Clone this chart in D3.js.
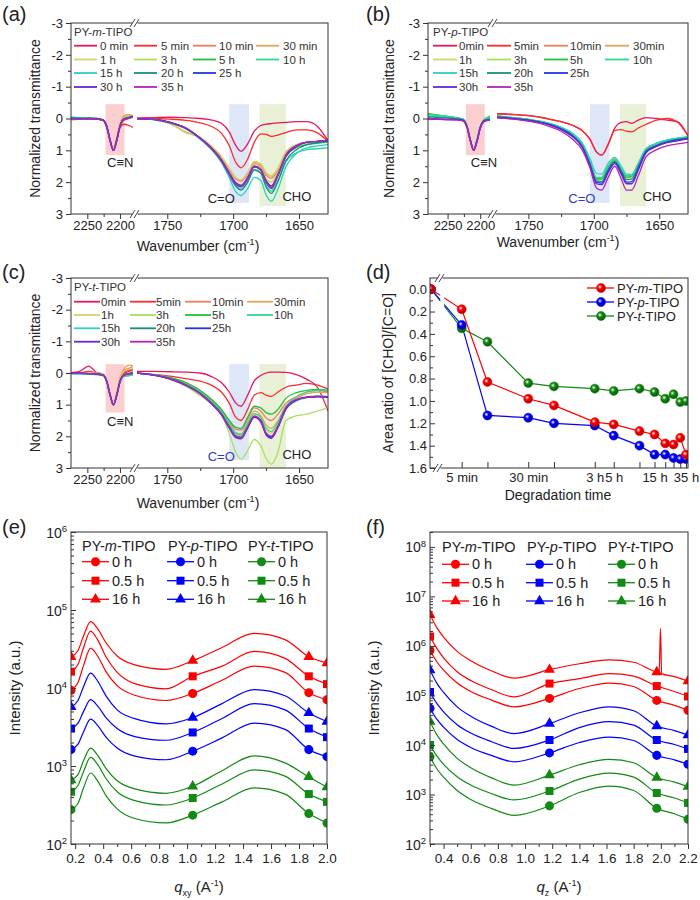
<!DOCTYPE html>
<html>
<head>
<meta charset="utf-8">
<script src="https://cdn.jsdelivr.net/npm/d3@7"></script>
<style>
  body { margin: 0; background: #fff; }
  svg { font-family: Arial, 'Liberation Sans', sans-serif; }
</style>
</head>
<body>
<svg id="fig" width="700" height="900"></svg>
<script>
const FONT = "Arial, 'Liberation Sans', sans-serif";
const svg = d3.select('#fig');
svg.append('rect').attr('width', 700).attr('height', 900).attr('fill', '#fff');

// ---------- data: FTIR spectra (a)-(c) ----------
const timeLabelsA = ['0 min', '5 min', '10 min', '30 min', '1 h', '3 h', '5 h', '10 h', '15 h', '20 h', '25 h', '30 h', '35 h'];
const timeLabelsBC = ['0min', '5min', '10min', '30min', '1h', '3h', '5h', '10h', '15h', '20h', '25h', '30h', '35h'];
const timeColors = ['#e8175d', '#ff2a2a', '#f47a5e', '#e3a458', '#d9d06e', '#a8e05a', '#1fc23a',
                    '#2ed88c', '#2bd0c6', '#12907f', '#2038e0', '#6a24d8', '#b322bd'];
// legend cell (row, column) of each time
const legendCells = [[0, 0], [0, 1], [0, 2], [0, 3], [1, 0], [1, 1], [1, 2], [1, 3], [2, 0], [2, 1], [2, 2], [3, 0], [3, 1]];

// wavenumbers (cm-1) of the read points
const wnLeft = [2280, 2262, 2248, 2236, 2226, 2220, 2215, 2210, 2205, 2200, 2194, 2186, 2180];
const wnRight = [1774, 1760, 1748, 1736, 1725, 1716, 1709, 1703, 1698, 1694, 1689,
                 1684, 1679, 1675, 1671, 1666, 1660, 1652, 1644, 1636, 1628];

const cnBand = [2222, 2193];
const coBand = [1703, 1688];
const choBand = [1680, 1660];

const aLeft = [
  [0.02, 0.0, -0.02, 0.02, 0.05, 0.28, 0.7, 1.0, 0.7, 0.25, 0.05, 0.0, -0.05],
  [0.02, 0.03, 0.0, 0.02, 0.06, 0.3, 0.72, 0.98, 0.66, 0.3, 0.18, 0.22, 0.28],
  [0.04, 0.02, -0.03, 0.0, 0.04, 0.26, 0.68, 0.98, 0.64, 0.2, -0.05, -0.1, -0.08],
  [0.05, 0.03, 0.0, 0.02, 0.04, 0.25, 0.66, 0.97, 0.62, 0.18, -0.08, -0.12, -0.1],
  [0.04, 0.02, -0.02, 0.02, 0.05, 0.27, 0.68, 0.99, 0.66, 0.22, -0.02, -0.08, -0.05],
  [0.02, 0.0, 0.02, 0.0, 0.05, 0.26, 0.7, 1.0, 0.68, 0.22, 0.0, -0.05, -0.05],
  [-0.05, -0.03, -0.02, 0.0, 0.04, 0.25, 0.68, 1.0, 0.68, 0.24, 0.02, -0.04, -0.08],
  [0.0, 0.02, 0.0, 0.01, 0.05, 0.28, 0.7, 1.0, 0.7, 0.24, 0.02, -0.03, -0.06],
  [-0.04, -0.02, 0.0, 0.02, 0.05, 0.27, 0.7, 1.0, 0.7, 0.25, 0.03, -0.02, -0.04],
  [-0.03, 0.0, 0.01, 0.0, 0.05, 0.27, 0.7, 1.0, 0.68, 0.24, 0.02, -0.03, -0.05],
  [0.0, 0.01, 0.0, 0.01, 0.04, 0.26, 0.69, 1.0, 0.69, 0.24, 0.02, -0.03, -0.06],
  [0.0, 0.0, 0.01, 0.01, 0.05, 0.27, 0.7, 1.0, 0.7, 0.25, 0.03, -0.02, -0.06],
  [0.0, 0.01, 0.0, 0.02, 0.05, 0.28, 0.7, 1.0, 0.7, 0.25, 0.03, -0.02, -0.06]
];
const aRight = [
  [-0.02, -0.03, -0.04, -0.03, 0.0, 0.05, 0.15, 0.42, 0.85, 1.03, 0.8, 0.4, 0.22, 0.18, 0.16, 0.14, 0.12, 0.1, 0.1, 0.25, 0.7],
  [0.0, 0.0, 0.02, 0.06, 0.14, 0.26, 0.46, 0.85, 1.38, 1.55, 1.28, 0.75, 0.48, 0.5, 0.56, 0.52, 0.44, 0.36, 0.36, 0.45, 0.72],
  [0.0, 0.02, 0.12, 0.32, 0.62, 0.92, 1.22, 1.6, 1.9, 1.97, 1.75, 1.42, 1.5, 1.78, 1.88, 1.62, 1.1, 0.84, 0.75, 0.72, 0.7],
  [0.0, 0.03, 0.15, 0.42, 0.6, 0.9, 1.2, 1.58, 1.88, 1.95, 1.72, 1.38, 1.45, 1.72, 1.82, 1.58, 1.06, 0.84, 0.76, 0.72, 0.7],
  [0.0, 0.03, 0.16, 0.45, 0.58, 0.88, 1.18, 1.55, 1.85, 1.93, 1.7, 1.35, 1.42, 1.7, 1.8, 1.56, 1.04, 0.82, 0.75, 0.72, 0.7],
  [0.0, 0.03, 0.12, 0.32, 0.62, 0.95, 1.28, 1.68, 2.0, 2.08, 1.85, 1.48, 1.55, 1.9, 2.0, 1.7, 1.13, 0.87, 0.78, 0.74, 0.72],
  [0.0, 0.03, 0.12, 0.3, 0.62, 0.95, 1.3, 1.72, 2.05, 2.12, 1.88, 1.5, 1.6, 1.98, 2.12, 1.78, 1.18, 0.92, 0.82, 0.78, 0.74],
  [0.0, 0.04, 0.14, 0.32, 0.64, 0.98, 1.34, 1.78, 2.12, 2.22, 1.98, 1.6, 1.7, 2.1, 2.28, 1.95, 1.36, 1.08, 0.98, 0.95, 0.92],
  [0.0, 0.04, 0.14, 0.32, 0.65, 1.0, 1.38, 1.85, 2.3, 2.42, 2.2, 1.85, 1.95, 2.4, 2.6, 2.22, 1.52, 1.1, 0.92, 0.86, 0.82],
  [0.0, 0.03, 0.13, 0.31, 0.63, 0.97, 1.33, 1.76, 2.12, 2.25, 2.0, 1.62, 1.72, 2.15, 2.35, 1.98, 1.33, 0.98, 0.82, 0.76, 0.72],
  [0.0, 0.03, 0.12, 0.3, 0.62, 0.95, 1.3, 1.72, 2.05, 2.15, 1.9, 1.52, 1.62, 2.0, 2.2, 1.8, 1.2, 0.88, 0.74, 0.72, 0.68],
  [0.0, 0.03, 0.12, 0.3, 0.62, 0.95, 1.3, 1.7, 2.02, 2.1, 1.85, 1.5, 1.6, 1.95, 2.12, 1.75, 1.15, 0.85, 0.74, 0.72, 0.68],
  [0.0, 0.03, 0.12, 0.3, 0.62, 0.96, 1.32, 1.74, 2.06, 2.12, 1.88, 1.52, 1.62, 2.0, 2.18, 1.78, 1.18, 0.86, 0.74, 0.72, 0.68]
];

const bLeft = [
  [-0.1, -0.06, -0.03, 0.0, 0.05, 0.28, 0.7, 1.0, 0.7, 0.28, 0.05, -0.05, -0.1],
  [-0.12, -0.08, -0.04, 0.0, 0.05, 0.28, 0.7, 1.0, 0.72, 0.3, 0.08, -0.02, -0.05],
  [-0.1, -0.08, -0.05, -0.02, 0.04, 0.26, 0.68, 0.98, 0.7, 0.28, 0.05, -0.05, -0.1],
  [-0.12, -0.08, -0.05, -0.02, 0.04, 0.26, 0.68, 0.98, 0.7, 0.28, 0.05, -0.06, -0.12],
  [-0.1, -0.08, -0.04, -0.01, 0.04, 0.27, 0.69, 0.99, 0.7, 0.28, 0.05, -0.05, -0.1],
  [-0.15, -0.1, -0.06, -0.02, 0.03, 0.25, 0.68, 0.98, 0.68, 0.26, 0.04, -0.05, -0.1],
  [-0.15, -0.1, -0.06, -0.02, 0.03, 0.25, 0.68, 0.98, 0.68, 0.26, 0.04, -0.06, -0.12],
  [-0.12, -0.1, -0.05, -0.02, 0.03, 0.25, 0.68, 0.98, 0.68, 0.26, 0.04, -0.05, -0.1],
  [-0.08, -0.06, -0.03, 0.0, 0.04, 0.26, 0.68, 0.98, 0.68, 0.27, 0.05, 0.0, -0.02],
  [-0.05, -0.03, -0.01, 0.01, 0.05, 0.27, 0.69, 0.99, 0.7, 0.28, 0.06, 0.02, 0.0],
  [0.0, 0.02, 0.03, 0.03, 0.06, 0.28, 0.7, 1.0, 0.72, 0.3, 0.08, 0.05, 0.05],
  [0.02, 0.03, 0.04, 0.04, 0.07, 0.28, 0.7, 1.0, 0.72, 0.3, 0.08, 0.05, 0.08],
  [0.0, 0.02, 0.03, 0.04, 0.08, 0.3, 0.72, 1.0, 0.74, 0.32, 0.1, 0.06, 0.1]
];
const bRight = [
  [-0.15, -0.12, -0.08, 0.0, 0.1, 0.22, 0.38, 0.65, 1.05, 1.15, 0.8, 0.3, 0.12, 0.1, 0.15, 0.05, -0.03, 0.0, 0.05, 0.1, 0.55],
  [-0.15, -0.12, -0.08, 0.0, 0.1, 0.22, 0.38, 0.65, 1.05, 1.15, 0.82, 0.38, 0.35, 0.4, 0.42, 0.3, 0.18, 0.05, 0.0, 0.12, 0.55],
  [-0.05, 0.0, 0.06, 0.15, 0.3, 0.52, 0.82, 1.38, 1.9, 1.88, 1.5, 1.28, 1.58, 1.82, 1.8, 1.45, 0.98, 0.82, 0.72, 0.65, 0.6],
  [-0.06, 0.0, 0.05, 0.14, 0.3, 0.5, 0.8, 1.36, 1.88, 1.86, 1.48, 1.26, 1.56, 1.8, 1.78, 1.42, 0.96, 0.8, 0.7, 0.64, 0.6],
  [-0.05, 0.0, 0.06, 0.16, 0.31, 0.52, 0.83, 1.4, 1.92, 1.9, 1.52, 1.3, 1.6, 1.85, 1.82, 1.46, 0.98, 0.8, 0.7, 0.64, 0.6],
  [-0.06, -0.01, 0.05, 0.14, 0.29, 0.5, 0.8, 1.35, 1.88, 1.87, 1.5, 1.28, 1.57, 1.83, 1.8, 1.44, 0.96, 0.8, 0.7, 0.64, 0.6],
  [-0.08, -0.02, 0.04, 0.13, 0.28, 0.48, 0.78, 1.34, 1.9, 1.9, 1.52, 1.3, 1.6, 1.85, 1.82, 1.45, 0.96, 0.78, 0.68, 0.63, 0.58],
  [-0.08, -0.02, 0.04, 0.13, 0.28, 0.48, 0.78, 1.32, 1.85, 1.85, 1.5, 1.3, 1.58, 1.8, 1.78, 1.42, 0.95, 0.78, 0.68, 0.62, 0.58],
  [-0.06, 0.0, 0.05, 0.14, 0.28, 0.48, 0.76, 1.25, 1.72, 1.75, 1.4, 1.22, 1.5, 1.75, 1.76, 1.4, 0.95, 0.78, 0.68, 0.62, 0.58],
  [-0.05, 0.0, 0.06, 0.16, 0.32, 0.54, 0.86, 1.42, 1.96, 1.98, 1.6, 1.35, 1.65, 1.92, 1.9, 1.52, 1.02, 0.84, 0.73, 0.66, 0.62],
  [-0.04, 0.01, 0.07, 0.17, 0.33, 0.56, 0.88, 1.45, 2.0, 2.03, 1.65, 1.38, 1.7, 2.0, 1.98, 1.58, 1.05, 0.86, 0.74, 0.68, 0.62],
  [-0.03, 0.02, 0.08, 0.18, 0.35, 0.58, 0.9, 1.48, 2.05, 2.08, 1.7, 1.42, 1.75, 2.05, 2.05, 1.62, 1.08, 0.88, 0.76, 0.7, 0.64],
  [-0.02, 0.03, 0.1, 0.22, 0.4, 0.66, 0.98, 1.55, 2.18, 2.25, 1.85, 1.5, 1.9, 2.25, 2.25, 1.8, 1.2, 0.98, 0.86, 0.8, 0.75]
];

const cLeft = [
  [0.0, -0.05, -0.22, -0.02, 0.04, 0.26, 0.68, 1.0, 0.7, 0.25, 0.02, -0.05, -0.1],
  [0.0, 0.0, -0.05, 0.0, 0.05, 0.28, 0.7, 1.02, 0.72, 0.26, 0.0, -0.1, -0.15],
  [0.0, -0.02, 0.0, 0.02, 0.05, 0.27, 0.7, 1.0, 0.68, 0.2, -0.08, -0.15, -0.2],
  [0.02, 0.0, 0.02, 0.02, 0.04, 0.25, 0.68, 0.98, 0.65, 0.15, -0.12, -0.25, -0.22],
  [0.0, 0.02, 0.0, 0.02, 0.05, 0.27, 0.7, 1.0, 0.68, 0.2, -0.05, -0.12, -0.15],
  [0.02, 0.0, 0.02, 0.0, 0.04, 0.26, 0.7, 1.0, 0.7, 0.25, 0.05, 0.0, -0.05],
  [0.0, 0.02, 0.02, 0.04, 0.08, 0.3, 0.72, 1.0, 0.72, 0.3, 0.1, 0.08, 0.05],
  [0.02, 0.02, 0.04, 0.05, 0.08, 0.3, 0.72, 1.0, 0.72, 0.3, 0.1, 0.08, 0.06],
  [0.02, 0.03, 0.04, 0.05, 0.07, 0.28, 0.7, 1.0, 0.7, 0.28, 0.08, 0.05, 0.04],
  [0.0, 0.01, 0.02, 0.03, 0.06, 0.28, 0.7, 1.0, 0.7, 0.28, 0.07, 0.03, 0.02],
  [0.0, 0.0, 0.02, 0.03, 0.06, 0.28, 0.7, 1.0, 0.7, 0.27, 0.06, 0.02, 0.0],
  [0.0, 0.01, 0.02, 0.03, 0.06, 0.28, 0.7, 1.0, 0.7, 0.27, 0.06, 0.02, 0.0],
  [0.0, 0.01, 0.02, 0.03, 0.06, 0.28, 0.7, 1.0, 0.7, 0.28, 0.07, 0.03, 0.01]
];
const cRight = [
  [-0.05, -0.05, -0.04, -0.03, 0.0, 0.12, 0.3, 0.6, 0.95, 1.05, 0.7, 0.25, 0.08, 0.0, -0.03, -0.03, -0.02, 0.05, 0.2, 0.45, 1.2],
  [0.0, 0.05, 0.1, 0.18, 0.26, 0.4, 0.6, 0.95, 1.4, 1.5, 1.15, 0.7, 0.62, 0.7, 0.74, 0.6, 0.45, 0.38, 0.33, 0.38, 0.5],
  [0.0, 0.06, 0.15, 0.3, 0.55, 0.85, 1.15, 1.5, 1.78, 1.8, 1.45, 1.1, 1.2, 1.42, 1.5, 1.3, 0.95, 0.75, 0.6, 0.55, 0.6],
  [0.0, 0.06, 0.16, 0.32, 0.58, 0.9, 1.2, 1.58, 1.88, 1.92, 1.55, 1.2, 1.35, 1.65, 1.75, 1.5, 1.05, 0.8, 0.65, 0.6, 0.62],
  [0.0, 0.07, 0.18, 0.36, 0.62, 0.95, 1.25, 1.62, 1.92, 1.98, 1.65, 1.3, 1.45, 1.8, 1.9, 1.6, 1.1, 0.85, 0.75, 0.72, 0.75],
  [0.0, 0.08, 0.2, 0.42, 0.72, 0.98, 1.3, 1.9, 2.5, 2.72, 2.45, 2.1, 2.3, 2.7, 2.88, 2.5, 1.5, 1.35, 1.3, 1.2, 1.1],
  [0.0, 0.05, 0.14, 0.3, 0.55, 0.85, 1.15, 1.5, 1.72, 1.75, 1.4, 1.05, 1.1, 1.25, 1.3, 1.15, 0.8, 0.62, 0.55, 0.52, 0.55],
  [0.0, 0.06, 0.16, 0.34, 0.6, 0.92, 1.22, 1.6, 1.9, 1.95, 1.6, 1.28, 1.4, 1.75, 1.85, 1.55, 1.05, 0.75, 0.6, 0.55, 0.55],
  [0.0, 0.07, 0.18, 0.38, 0.65, 0.98, 1.3, 1.7, 2.0, 2.05, 1.72, 1.38, 1.52, 1.92, 2.02, 1.7, 1.15, 0.88, 0.78, 0.75, 0.78],
  [0.0, 0.07, 0.18, 0.37, 0.64, 0.97, 1.28, 1.68, 1.98, 2.02, 1.7, 1.36, 1.5, 1.9, 2.0, 1.68, 1.12, 0.85, 0.76, 0.74, 0.75],
  [0.0, 0.07, 0.18, 0.38, 0.65, 0.98, 1.3, 1.72, 2.02, 2.06, 1.72, 1.38, 1.52, 1.92, 2.03, 1.7, 1.12, 0.85, 0.76, 0.74, 0.75],
  [0.0, 0.07, 0.19, 0.39, 0.66, 1.0, 1.32, 1.74, 2.04, 2.08, 1.74, 1.4, 1.55, 1.95, 2.06, 1.72, 1.14, 0.86, 0.77, 0.75, 0.76],
  [0.0, 0.07, 0.18, 0.38, 0.65, 0.98, 1.3, 1.72, 2.0, 2.05, 1.7, 1.36, 1.5, 1.9, 2.0, 1.68, 1.1, 0.84, 0.76, 0.74, 0.75]
];

// ---------- data: area ratio (d) ----------
const ratioMinutes = [0, 5, 10, 30, 60, 180, 300, 600, 900, 1200, 1500, 1800, 2100];
const ratioM = [0.0, 0.18, 0.83, 0.98, 1.04, 1.19, 1.21, 1.27, 1.30, 1.38, 1.39, 1.33, 1.48];
const ratioP = [0.0, 0.32, 1.13, 1.15, 1.20, 1.22, 1.31, 1.40, 1.48, 1.48, 1.51, 1.52, 1.52];
const ratioT = [0.0, 0.35, 0.47, 0.84, 0.87, 0.89, 0.91, 0.89, 0.92, 0.98, 0.94, 1.01, 1.00];
const ratioTicks = [5, 10, 30, 60, 180, 300, 600, 900, 1200, 1500, 1800, 2100];
const ratioTickLabels = {5: '5 min', 30: '30 min', 180: '3 h', 300: '5 h', 900: '15 h', 2100: '35 h'};

// ---------- data: GIWAXS (e) in-plane, log10 intensity ----------
const qxy = [0.17, 0.22, 0.26, 0.31, 0.36, 0.42, 0.5, 0.62, 0.85, 1.04, 1.25, 1.48, 1.7, 1.87, 2.0];
const eRed16h   = [4.40, 4.48, 4.67, 4.85, 4.76, 4.58, 4.41, 4.30, 4.24, 4.35, 4.52, 4.70, 4.62, 4.40, 4.32];
const eRed05h   = [4.21, 4.30, 4.52, 4.73, 4.62, 4.40, 4.20, 4.06, 3.99, 4.15, 4.28, 4.47, 4.38, 4.15, 4.05];
const eRed0h    = [3.97, 4.07, 4.29, 4.51, 4.41, 4.21, 4.03, 3.91, 3.84, 3.93, 4.10, 4.28, 4.20, 3.94, 3.85];
const eBlue16h  = [3.76, 3.84, 4.02, 4.19, 4.09, 3.90, 3.72, 3.61, 3.54, 3.62, 3.80, 3.98, 3.90, 3.68, 3.57];
const eBlue05h  = [3.48, 3.55, 3.70, 3.85, 3.77, 3.62, 3.48, 3.38, 3.33, 3.43, 3.61, 3.80, 3.72, 3.48, 3.37];
const eBlue0h   = [3.21, 3.28, 3.44, 3.60, 3.52, 3.37, 3.23, 3.13, 3.08, 3.19, 3.36, 3.55, 3.47, 3.21, 3.12];
const eGreen16h = [2.82, 2.89, 3.07, 3.23, 3.14, 2.97, 2.81, 2.71, 2.65, 2.74, 2.94, 3.13, 3.04, 2.86, 2.73];
const eGreen05h = [2.67, 2.75, 2.93, 3.11, 3.02, 2.84, 2.67, 2.56, 2.50, 2.59, 2.77, 2.95, 2.87, 2.64, 2.54];
const eGreen0h  = [2.44, 2.52, 2.72, 2.91, 2.81, 2.62, 2.45, 2.33, 2.27, 2.37, 2.54, 2.72, 2.64, 2.39, 2.27];
const qxyMarkers = [0.17, 1.04, 1.87, 2.0];

// ---------- data: GIWAXS (f) out-of-plane, log10 intensity ----------
const qz = [0.3, 0.35, 0.4, 0.5, 0.6, 0.75, 0.92, 1.18, 1.4, 1.62, 1.8, 1.97, 2.1, 2.2];
const fRed16h   = [6.63, 6.37, 6.18, 5.89, 5.70, 5.50, 5.35, 5.52, 5.64, 5.72, 5.67, 5.47, 5.38, 5.29];
const fRed05h   = [6.19, 5.95, 5.76, 5.48, 5.30, 5.12, 4.97, 5.24, 5.34, 5.44, 5.39, 5.19, 5.08, 4.98];
const fRed0h    = [5.91, 5.68, 5.51, 5.25, 5.08, 4.91, 4.77, 4.94, 5.14, 5.25, 5.18, 4.90, 4.80, 4.70];
const fBlue16h  = [5.51, 5.25, 5.06, 4.77, 4.58, 4.38, 4.23, 4.43, 4.65, 4.77, 4.69, 4.38, 4.29, 4.20];
const fBlue05h  = [5.07, 4.84, 4.67, 4.41, 4.24, 4.07, 3.93, 4.10, 4.35, 4.47, 4.40, 4.10, 4.01, 3.92];
const fBlue0h   = [4.74, 4.52, 4.36, 4.11, 3.95, 3.79, 3.66, 3.84, 4.05, 4.16, 4.09, 3.79, 3.70, 3.61];
const fGreen16h = [4.47, 4.21, 4.02, 3.73, 3.54, 3.34, 3.19, 3.39, 3.60, 3.71, 3.64, 3.34, 3.25, 3.16];
const fGreen05h = [4.00, 3.78, 3.61, 3.36, 3.19, 3.02, 2.89, 3.07, 3.31, 3.43, 3.35, 3.03, 2.93, 2.83];
const fGreen0h  = [3.76, 3.52, 3.35, 3.08, 2.90, 2.72, 2.58, 2.77, 3.04, 3.17, 3.08, 2.72, 2.61, 2.50];
const fRedSpikeQ = [1.988, 1.997, 2.006];
const fRedSpikeV = [5.46, 6.35, 5.44];
const qzMarkers = [0.3, 1.18, 1.97, 2.2];

const legendTimes = ['0 h', '0.5 h', '16 h'];

// ---------- helpers ----------
function styleAxis(sel, fs) {
  sel.select('.domain').remove();
  sel.selectAll('line').attr('stroke', '#333');
  sel.selectAll('text').attr('font-size', fs).attr('fill', '#222').attr('font-family', FONT);
}

function frame(x0, y0, x1, y1) {
  svg.append('rect').attr('x', x0).attr('y', y0).attr('width', x1 - x0).attr('height', y1 - y0)
    .attr('fill', 'none').attr('stroke', '#333').attr('stroke-width', 1);
}

function breakMark(x, y) {
  svg.append('rect').attr('x', x - 2.5).attr('y', y - 2).attr('width', 5).attr('height', 4).attr('fill', '#fff');
  [-2.5, 1.5].forEach(off => {
    svg.append('line').attr('x1', x + off - 2.5).attr('y1', y + 4).attr('x2', x + off + 2.5).attr('y2', y - 4)
      .attr('stroke', '#333').attr('stroke-width', 0.9);
  });
}

function panelLabel(txt, x, y) {
  svg.append('text').attr('x', x).attr('y', y).attr('font-size', 20).attr('fill', '#222').text(txt);
}

function nameText(sel, letter) {
  sel.append('tspan').text('PY-');
  sel.append('tspan').attr('font-style', 'italic').text(letter);
  sel.append('tspan').text('-TIPO');
}

function supLabel(x, y, parts, rotate) {
  const t = svg.append('text').attr('x', x).attr('y', y).attr('text-anchor', 'middle')
    .attr('font-size', 14).attr('fill', '#222');
  if (rotate) t.attr('transform', `rotate(-90, ${x}, ${y})`);
  parts.forEach(p => {
    const s = t.append('tspan').text(p.t);
    if (p.sup) s.attr('font-size', 9).attr('baseline-shift', '6');
    if (p.sub) s.attr('font-size', 9).attr('baseline-shift', '-4');
    if (p.it) s.attr('font-style', 'italic');
  });
  return t;
}

// ---------- FTIR panels ----------
function spectrumPanel(p) {
  const y = d3.scaleLinear().domain([-3, 3]).range([p.top, p.bottom]);
  const xl = d3.scaleLinear().domain(p.leftDomain).range(p.leftRange);
  const xr = d3.scaleLinear().domain(p.rightDomain).range(p.rightRange);

  const bands = [
    { sc: xl, w: cnBand, hi: p.bandBottoms[0], fill: 'rgba(245,140,140,0.42)' },
    { sc: xr, w: coBand, hi: p.bandBottoms[1], fill: 'rgba(175,198,236,0.42)' },
    { sc: xr, w: choBand, hi: p.bandBottoms[2], fill: 'rgba(205,222,165,0.45)' }
  ];
  svg.append('g').selectAll('rect').data(bands).join('rect')
    .attr('x', d => d.sc(d.w[0])).attr('width', d => d.sc(d.w[1]) - d.sc(d.w[0]))
    .attr('y', y(p.bandTop)).attr('height', d => y(d.hi) - y(p.bandTop))
    .attr('fill', d => d.fill);

  const defs = svg.append('defs');
  defs.append('clipPath').attr('id', p.id + 'L').append('rect')
    .attr('x', p.leftRange[0]).attr('width', p.leftRange[1] - p.leftRange[0])
    .attr('y', p.top).attr('height', p.bottom - p.top);
  defs.append('clipPath').attr('id', p.id + 'R').append('rect')
    .attr('x', p.rightRange[0]).attr('width', p.rightRange[1] - p.rightRange[0])
    .attr('y', p.top).attr('height', p.bottom - p.top);

  const lineL = d3.line().x((d, i) => xl(wnLeft[i])).y(d => y(d)).curve(d3.curveMonotoneX);
  const lineR = d3.line().x((d, i) => xr(wnRight[i])).y(d => y(d)).curve(d3.curveMonotoneX);

  svg.append('g').attr('clip-path', `url(#${p.id}L)`)
    .selectAll('path').data(p.left).join('path')
    .attr('d', lineL).attr('fill', 'none').attr('stroke', (d, i) => timeColors[i]).attr('stroke-width', 1.3);
  svg.append('g').attr('clip-path', `url(#${p.id}R)`)
    .selectAll('path').data(p.right).join('path')
    .attr('d', lineR).attr('fill', 'none').attr('stroke', (d, i) => timeColors[i]).attr('stroke-width', 1.3);

  // axes
  const yAx = svg.append('g').attr('transform', `translate(${p.leftRange[0]},0)`)
    .call(d3.axisLeft(y).tickValues([-3, -2, -1, 0, 1, 2, 3]).tickSize(5).tickPadding(3).tickFormat(d => String(d)));
  styleAxis(yAx, 13);
  const yMin = svg.append('g').attr('transform', `translate(${p.leftRange[0]},0)`)
    .call(d3.axisLeft(y).tickValues([-2.5, -1.5, -0.5, 0.5, 1.5, 2.5]).tickSize(3).tickFormat(''));
  styleAxis(yMin, 13);

  const xb = `translate(0,${p.bottom})`;
  const xlAx = svg.append('g').attr('transform', xb)
    .call(d3.axisBottom(xl).tickValues([2250, 2200]).tickSize(5).tickPadding(2).tickFormat(d => String(d)));
  styleAxis(xlAx, 13);
  const xlMin = svg.append('g').attr('transform', xb)
    .call(d3.axisBottom(xl).tickValues([2225]).tickSize(3).tickFormat(''));
  styleAxis(xlMin, 13);
  const xrAx = svg.append('g').attr('transform', xb)
    .call(d3.axisBottom(xr).tickValues([1750, 1700, 1650]).tickSize(5).tickPadding(2).tickFormat(d => String(d)));
  styleAxis(xrAx, 13);
  const xrMin = svg.append('g').attr('transform', xb)
    .call(d3.axisBottom(xr).tickValues([1725, 1675]).tickSize(3).tickFormat(''));
  styleAxis(xrMin, 13);

  frame(p.leftRange[0], p.top, p.rightRange[1], p.bottom);
  breakMark(p.breakX, p.top);
  breakMark(p.breakX, p.bottom);

  // peak annotations
  svg.append('text').attr('x', xl(cnBand[0]) + p.cnShift).attr('y', y(p.annot[0]))
    .attr('font-size', 13).attr('fill', '#222').text('C\u2261N');
  svg.append('text').attr('x', xr(coBand[0]) - 8).attr('y', y(p.annot[1])).attr('text-anchor', 'middle')
    .attr('font-size', 13).attr('fill', p.coColor).text('C=O');
  svg.append('text').attr('x', xr(choBand[1]) + 11).attr('y', y(p.annot[2])).attr('text-anchor', 'middle')
    .attr('font-size', 13).attr('fill', '#222').text('CHO');

  // legend
  const title = svg.append('text').attr('x', p.legLineX[0]).attr('y', p.titleY)
    .attr('font-size', 11.5).attr('fill', '#333');
  nameText(title, p.letter);
  p.labels.forEach((lab, i) => {
    const [r, c] = legendCells[i];
    const ly = p.legRowY[r];
    svg.append('line').attr('x1', p.legLineX[c]).attr('x2', p.legLineX[c] + p.legLen)
      .attr('y1', ly).attr('y2', ly).attr('stroke', timeColors[i]).attr('stroke-width', 1.8);
    svg.append('text').attr('x', p.legTextX[c]).attr('y', ly + 4).attr('font-size', 11.5)
      .attr('fill', '#333').text(lab);
  });

  supLabel(p.ylabX, (p.top + p.bottom) / 2, [{ t: 'Normalized transmittance' }], true);
  supLabel(p.xlabX, p.xlabY, [{ t: 'Wavenumber (cm' }, { t: '-1', sup: true }, { t: ')' }]);
}

spectrumPanel({
  id: 'pa', top: 23, bottom: 214, leftDomain: [2275, 2180], leftRange: [71, 133],
  rightDomain: [1773, 1628], rightRange: [137, 328], breakX: 135,
  left: aLeft, right: aRight, labels: timeLabelsA, letter: 'm', cnShift: 1.5,
  bandTop: -0.45, bandBottoms: [1.15, 2.65, 2.75], annot: [1.52, 2.65, 2.59], coColor: '#222',
  legLineX: [74, 134, 193, 256], legTextX: [100, 161, 219, 283], legLen: 23,
  legRowY: [45.7, 59.5, 73, 87], titleY: 36, ylabX: 40, xlabX: 198, xlabY: 251
});
spectrumPanel({
  id: 'pb', top: 23, bottom: 214, leftDomain: [2280, 2185], leftRange: [428, 490],
  rightDomain: [1774, 1628], rightRange: [497, 688], breakX: 493,
  left: bLeft, right: bRight, labels: timeLabelsBC, letter: 'p', cnShift: 5,
  bandTop: -0.45, bandBottoms: [1.15, 2.65, 2.75], annot: [1.52, 2.65, 2.59], coColor: '#2b3fc4',
  legLineX: [433, 487, 544, 605], legTextX: [459, 514, 570, 633], legLen: 24,
  legRowY: [45.7, 59.5, 73, 87], titleY: 36, ylabX: 394, xlabX: 558, xlabY: 247
});
spectrumPanel({
  id: 'pc', top: 278, bottom: 468, leftDomain: [2275, 2180], leftRange: [71, 133],
  rightDomain: [1773, 1628], rightRange: [137, 328], breakX: 135,
  left: cLeft, right: cRight, labels: timeLabelsBC, letter: 't', cnShift: 1.5,
  bandTop: -0.28, bandBottoms: [1.25, 2.75, 3.0], annot: [1.67, 2.78, 2.72], coColor: '#2b3fc4',
  legLineX: [74, 130, 185, 247], legTextX: [101, 156, 212, 274], legLen: 26,
  legRowY: [301.7, 315, 328.3, 341.7], titleY: 291, ylabX: 40, xlabX: 198, xlabY: 508
});

// ---------- (d) area ratio ----------
(function ratioPanel() {
  const L = 430, R = 688, T = 278, B = 468;
  const y = d3.scaleLinear().domain([-0.1, 1.6]).range([T, B]);
  const xLog = d3.scaleLog().domain([5, 2100]).range([461.7, 686]);
  const xZero = d3.scaleLinear().domain([0, 1]).range([431, 445]);
  const xPos = t => t === 0 ? xZero(0) : xLog(t);

  const defs = svg.append('defs');
  const series = [
    { name: 'm', v: ratioM, c: '#ff0000', dark: '#b00000', id: 'ballR' },
    { name: 'p', v: ratioP, c: '#0000ff', dark: '#0000a0', id: 'ballB' },
    { name: 't', v: ratioT, c: '#138a13', dark: '#0a5a0a', id: 'ballG' }
  ];
  series.forEach(s => {
    const gr = defs.append('radialGradient').attr('id', s.id).attr('cx', '38%').attr('cy', '38%').attr('r', '60%');
    gr.append('stop').attr('offset', '0%').attr('stop-color', '#fff');
    gr.append('stop').attr('offset', '40%').attr('stop-color', s.c);
    gr.append('stop').attr('offset', '100%').attr('stop-color', s.dark);
  });
  defs.append('clipPath').attr('id', 'clipD').append('rect')
    .attr('x', L).attr('y', T).attr('width', R - L).attr('height', B - T);

  const line = d3.line().x((d, i) => xPos(ratioMinutes[i])).y(d => y(d));
  const g = svg.append('g').attr('clip-path', 'url(#clipD)');
  series.slice().reverse().forEach(s => {
    g.append('path').attr('d', line(s.v)).attr('fill', 'none').attr('stroke', s.c).attr('stroke-width', 1.2);
  });
  // axis break gap across the lines
  g.append('rect').attr('x', xZero(0.66)).attr('y', y(0.0) - 4).attr('width', 4).attr('height', y(0.45) - y(0.0))
    .attr('fill', '#fff');
  series.slice().reverse().forEach(s => {
    g.selectAll(null).data(s.v).join('circle')
      .attr('cx', (d, i) => xPos(ratioMinutes[i])).attr('cy', d => y(d)).attr('r', 4.5)
      .attr('fill', `url(#${s.id})`).attr('stroke', s.c).attr('stroke-width', 0.6);
  });

  const yAx = svg.append('g').attr('transform', `translate(${L},0)`)
    .call(d3.axisLeft(y).tickValues(d3.range(0, 1.61, 0.2)).tickSize(-5).tickPadding(2).tickFormat(d3.format('.1f')));
  styleAxis(yAx, 13);
  yAx.selectAll('text').attr('x', -3);
  const yMin = svg.append('g').attr('transform', `translate(${L},0)`)
    .call(d3.axisLeft(y).tickValues(d3.range(0.1, 1.6, 0.2)).tickSize(-3).tickFormat(''));
  styleAxis(yMin, 13);

  const xAx = svg.append('g').attr('transform', `translate(0,${B})`)
    .call(d3.axisBottom(xLog).tickValues(ratioTicks).tickSize(-6).tickPadding(4)
      .tickFormat(d => ratioTickLabels[d] || ''));
  styleAxis(xAx, 13);
  xAx.selectAll('text').attr('y', 5);

  frame(L, T, R, B);
  breakMark(440, T);
  breakMark(438, B);

  // legend
  const legY = [288, 302, 316];
  series.forEach((s, i) => {
    svg.append('line').attr('x1', 587).attr('x2', 614).attr('y1', legY[i]).attr('y2', legY[i])
      .attr('stroke', s.c).attr('stroke-width', 1.3);
    svg.append('circle').attr('cx', 601).attr('cy', legY[i]).attr('r', 4.5)
      .attr('fill', `url(#${s.id})`).attr('stroke', s.c).attr('stroke-width', 0.6);
    const t = svg.append('text').attr('x', 617).attr('y', legY[i] + 4.5).attr('font-size', 13).attr('fill', '#222');
    nameText(t, s.name);
  });

  supLabel(393, (T + B) / 2, [{ t: 'Area ratio of [CHO]/[C=O]' }], true);
  supLabel(558, 500, [{ t: 'Degradation time' }]);
})();

// ---------- (e), (f) GIWAXS ----------
function giwaxsPanel(p) {
  const x = d3.scaleLinear().domain(p.xDomain).range([p.L, p.R]);
  const y = d3.scaleLog().domain(p.yDomain).range([p.B, p.T]);
  const defs = svg.append('defs');
  defs.append('clipPath').attr('id', p.id).append('rect')
    .attr('x', p.L).attr('y', p.T).attr('width', p.R - p.L).attr('height', p.B - p.T);
  const g = svg.append('g').attr('clip-path', `url(#${p.id})`);
  const line = d3.line().x(d => x(d[0])).y(d => y(10 ** d[1])).curve(d3.curveMonotoneX);
  const symType = { c: d3.symbolCircle, s: d3.symbolSquare, t: d3.symbolTriangle };
  const symSize = { c: 64, s: 64, t: 52 };

  p.series.forEach(s => {
    let pts = p.q.map((q, i) => [q, s.v[i]]);
    if (s.extraQ) pts = pts.concat(s.extraQ.map((q, i) => [q, s.extraV[i]])).sort((a, b) => a[0] - b[0]);
    g.append('path').attr('d', line(pts)).attr('fill', 'none').attr('stroke', s.c).attr('stroke-width', 1.2);
    const mk = p.markers.map(q => [q, s.v[p.q.indexOf(q)]]);
    g.selectAll(null).data(mk).join('path')
      .attr('transform', d => `translate(${x(d[0])},${y(10 ** d[1])})`)
      .attr('d', d3.symbol().type(symType[s.sym]).size(symSize[s.sym]))
      .attr('fill', s.c);
  });

  const yAx = svg.append('g').attr('transform', `translate(${p.L},0)`)
    .call(d3.axisLeft(y).tickValues(p.majors).tickSize(-5).tickPadding(3).tickFormat(''));
  styleAxis(yAx, 14);
  yAx.selectAll('.tick').append('text').attr('x', -4).attr('dy', '0.36em').attr('text-anchor', 'end')
    .attr('font-size', 14).attr('fill', '#222')
    .each(function (d) {
      const t = d3.select(this);
      t.append('tspan').text('10');
      t.append('tspan').attr('font-size', 9.5).attr('dy', '-0.55em').text(Math.round(Math.log10(d)));
    });
  const minors = [];
  p.majors.slice(0, -1).forEach(m => d3.range(2, 10).forEach(k => minors.push(m * k)));
  p.extraMinors.forEach(v => minors.push(v));
  const yMin = svg.append('g').attr('transform', `translate(${p.L},0)`)
    .call(d3.axisLeft(y).tickValues(minors).tickSize(-3).tickFormat(''));
  styleAxis(yMin, 13);

  const xAx = svg.append('g').attr('transform', `translate(0,${p.B})`)
    .call(d3.axisBottom(x).tickValues(p.xTicks).tickSize(5).tickPadding(4).tickFormat(d3.format('.1f')));
  styleAxis(xAx, 13.5);
  const xMin = svg.append('g').attr('transform', `translate(0,${p.B})`)
    .call(d3.axisBottom(x).tickValues(p.xMinor).tickSize(3).tickFormat(''));
  styleAxis(xMin, 13);

  frame(p.L, p.T, p.R, p.B);

  // legend
  ['m', 'p', 't'].forEach((nm, ci) => {
    const t = svg.append('text').attr('x', p.legHeadX[ci]).attr('y', p.legHeadY)
      .attr('font-size', 14.5).attr('fill', '#222');
    nameText(t, nm);
    const col = ['#ff0000', '#0000ff', '#138a13'][ci];
    ['c', 's', 't'].forEach((sym, ri) => {
      const ly = p.legRowY[ri];
      svg.append('line').attr('x1', p.legLineX[ci]).attr('x2', p.legLineX[ci] + 27)
        .attr('y1', ly).attr('y2', ly).attr('stroke', col).attr('stroke-width', 1.3);
      svg.append('path').attr('transform', `translate(${p.legLineX[ci] + 13.5},${ly})`)
        .attr('d', d3.symbol().type(symType[sym]).size(symSize[sym])).attr('fill', col);
      svg.append('text').attr('x', p.legLineX[ci] + 30).attr('y', ly + 5).attr('font-size', 14.5)
        .attr('fill', '#222').text(legendTimes[ri]);
    });
  });

  supLabel(p.ylabX, (p.T + p.B) / 2, [{ t: 'Intensity (a.u.)' }], true).attr('font-size', 15);
  supLabel((p.L + p.R) / 2, 892, p.xlabParts).attr('font-size', 15);
}

giwaxsPanel({
  id: 'clipE', L: 71, R: 327, T: 532, B: 844, xDomain: [0.17, 2.0], yDomain: [1e2, 1e6],
  q: qxy, markers: qxyMarkers,
  series: [
    { v: eGreen0h, c: '#138a13', sym: 'c' }, { v: eGreen05h, c: '#138a13', sym: 's' }, { v: eGreen16h, c: '#138a13', sym: 't' },
    { v: eBlue0h, c: '#0000ff', sym: 'c' }, { v: eBlue05h, c: '#0000ff', sym: 's' }, { v: eBlue16h, c: '#0000ff', sym: 't' },
    { v: eRed0h, c: '#ff0000', sym: 'c' }, { v: eRed05h, c: '#ff0000', sym: 's' }, { v: eRed16h, c: '#ff0000', sym: 't' }
  ],
  majors: [1e2, 1e3, 1e4, 1e5, 1e6], extraMinors: [],
  xTicks: d3.range(0.2, 2.01, 0.2), xMinor: d3.range(0.3, 2.0, 0.2),
  legHeadX: [82, 168, 248], legHeadY: 551, legRowY: [561.7, 580.7, 599.3], legLineX: [82, 167, 248],
  ylabX: 20, xlabParts: [{ t: 'q', it: true }, { t: 'xy', sub: true }, { t: ' (A' }, { t: '-1', sup: true }, { t: ')' }]
});

giwaxsPanel({
  id: 'clipF', L: 430, R: 688, T: 532, B: 844, xDomain: [0.3, 2.2], yDomain: [1e2, 2e8],
  q: qz, markers: qzMarkers,
  series: [
    { v: fGreen0h, c: '#138a13', sym: 'c' }, { v: fGreen05h, c: '#138a13', sym: 's' }, { v: fGreen16h, c: '#138a13', sym: 't' },
    { v: fBlue0h, c: '#0000ff', sym: 'c' }, { v: fBlue05h, c: '#0000ff', sym: 's' }, { v: fBlue16h, c: '#0000ff', sym: 't' },
    { v: fRed0h, c: '#ff0000', sym: 'c' }, { v: fRed05h, c: '#ff0000', sym: 's' },
    { v: fRed16h, c: '#ff0000', sym: 't', extraQ: fRedSpikeQ, extraV: fRedSpikeV }
  ],
  majors: [1e2, 1e3, 1e4, 1e5, 1e6, 1e7, 1e8], extraMinors: [2e8],
  xTicks: d3.range(0.4, 2.21, 0.2), xMinor: d3.range(0.3, 2.2, 0.2),
  legHeadX: [442, 527, 608], legHeadY: 552, legRowY: [564.3, 582.7, 601], legLineX: [442, 526, 608],
  ylabX: 379, xlabParts: [{ t: 'q', it: true }, { t: 'z', sub: true }, { t: ' (A' }, { t: '-1', sup: true }, { t: ')' }]
});

// ---------- panel letters ----------
panelLabel('(a)', 2, 21);
panelLabel('(b)', 366, 21);
panelLabel('(c)', 2, 279);
panelLabel('(d)', 366, 279);
panelLabel('(e)', 2, 534);
panelLabel('(f)', 366, 534);
</script>
</body>
</html>
